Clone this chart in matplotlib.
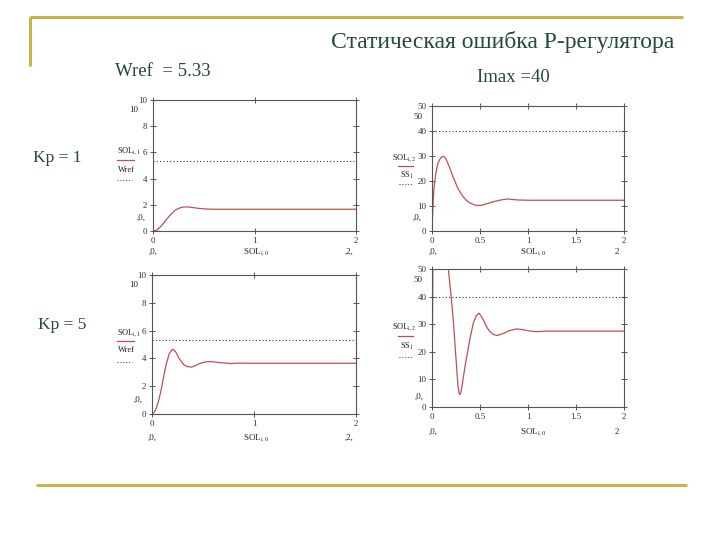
import numpy as np
import matplotlib.pyplot as plt
from matplotlib.lines import Line2D

plt.rcParams["font.family"] = ["Liberation Serif", "DejaVu Serif"]
plt.rcParams["mathtext.fontset"] = "stix"

# ---- data ----
# Kp = 1, speed SOL[i,1]
t_w1 = [0, 0.02, 0.04, 0.07, 0.1, 0.14, 0.18, 0.22, 0.26, 0.3, 0.34, 0.38,
        0.42, 0.46, 0.5, 0.55, 0.6, 0.8, 1.0, 1.5, 2.0]
w1 = [0, 0.02, 0.08, 0.3, 0.55, 0.95, 1.3, 1.6, 1.75, 1.83, 1.84, 1.8,
      1.76, 1.72, 1.69, 1.67, 1.66, 1.66, 1.66, 1.66, 1.66]
# Kp = 1, current SOL[i,2]
t_i1 = [0, 0.01, 0.02, 0.04, 0.06, 0.09, 0.115, 0.14, 0.18, 0.22, 0.27, 0.32,
        0.36, 0.4, 0.46, 0.52, 0.57, 0.62, 0.67, 0.73, 0.79, 0.84, 0.9, 1.0,
        1.5, 2.0]
i1 = [0, 10, 17, 23, 27, 29.3, 29.9, 29.2, 25.8, 21.6, 17, 13.9,
      12.2, 11.1, 10.2, 10.3, 10.9, 11.5, 12.0, 12.5, 12.8, 12.6, 12.4, 12.3,
      12.3, 12.3]
# Kp = 5, speed SOL[i,1]
t_w5 = [0, 0.02, 0.04, 0.07, 0.09, 0.12, 0.14, 0.17, 0.2, 0.23, 0.27, 0.31,
        0.35, 0.39, 0.43, 0.47, 0.52, 0.57, 0.62, 0.66, 0.72, 0.78, 0.86, 1.0,
        1.5, 2.0]
w5 = [0, 0.1, 0.38, 1.1, 1.75, 2.9, 3.6, 4.35, 4.66, 4.5, 3.95, 3.55,
      3.4, 3.38, 3.5, 3.64, 3.74, 3.77, 3.74, 3.7, 3.66, 3.63, 3.66, 3.65,
      3.65, 3.65]
# Kp = 5, current SOL[i,2]
t_i5 = [0, 0.005, 0.01, 0.03, 0.06, 0.1, 0.14, 0.17, 0.2, 0.225, 0.245, 0.26,
        0.27, 0.28, 0.29, 0.3, 0.31, 0.33, 0.35, 0.375, 0.4, 0.43, 0.46, 0.49,
        0.53, 0.57, 0.6, 0.64, 0.68, 0.74, 0.8, 0.88, 0.95, 1.02, 1.09, 1.19,
        1.5, 2.0]
i5 = [0, 30, 55, 75, 78, 72, 60, 50, 40, 30, 20, 12.5,
      8, 5.2, 4.5, 5.2, 7, 11.5, 16, 20.8, 25.5, 30.4, 33, 34,
      31.9, 29, 27.4, 26.3, 25.9, 26.6, 27.6, 28.3, 28, 27.5, 27.3, 27.5,
      27.5, 27.5]

wref = 5.33
imax = 40

RED = "#c0504d"
OLIVE = "#c9b34a"
GREEN = "#24483a"
AX = "#555555"

W, H = 720, 540
fig = plt.figure(figsize=(7.2, 5.4), dpi=100)


def px(x, y):
    return x / W, 1 - y / H


def ftext(x, y, s, size=6.5, ha="left", va="center", color="#222222"):
    fig.text(*px(x, y), s, fontsize=size, ha=ha, va=va, color=color)


def fline(x0, x1, y, **kw):
    a, b = px(x0, y)
    c, _ = px(x1, y)
    fig.add_artist(Line2D([a, c], [b, b], transform=fig.transFigure, **kw))


def make_axes(rect, t, y, ref, ylim, yticks, xticks, xlabels):
    x0, y0, x1, y1 = rect
    l, top = px(x0, y0)
    r, bot = px(x1, y1)
    ax = fig.add_axes([l, bot, r - l, top - bot])
    ax.plot(t, y, color=RED, lw=0.9)
    ax.axhline(ref, color="#333333", lw=0.8, ls=(0, (1, 2)))
    ax.set_xlim(0, 2)
    ax.set_ylim(*ylim)
    ax.set_yticks(yticks)
    ax.set_yticklabels([f"{v:g}" for v in yticks])
    ax.set_xticks(xticks)
    ax.set_xticklabels(xlabels)
    for s in ax.spines.values():
        s.set_color(AX)
        s.set_linewidth(0.8)
    ax.tick_params(axis="both", direction="inout", length=4, width=0.7,
                   color=AX, labelsize=6.5, labelcolor="#333333", pad=2,
                   top=True, right=True)
    return ax


make_axes((153, 100, 356, 231), t_w1, w1, wref, (0, 10),
          [0, 2, 4, 6, 8, 10], [0, 1, 2], ["0", "1", "2"])
make_axes((432, 106, 624, 231), t_i1, i1, imax, (0, 50),
          [0, 10, 20, 30, 40, 50], [0, 0.5, 1, 1.5, 2],
          ["0", "0.5", "1", "1.5", "2"])
make_axes((152, 275, 356, 414), t_w5, w5, wref, (0, 10),
          [0, 2, 4, 6, 8, 10], [0, 1, 2], ["0", "1", "2"])
make_axes((432, 269, 624, 407), t_i5, i5, imax, (0, 50),
          [0, 10, 20, 30, 40, 50], [0, 0.5, 1, 1.5, 2],
          ["0", "0.5", "1", "1.5", "2"])

LS = 6  # size of the Mathcad side labels

# plot 1 labels
ftext(129, 110, "10")
ftext(117, 151, "SOL$_{\\mathrm{i,1}}$", size=LS)
fline(117, 134, 160, color=RED, lw=0.9)
ftext(118, 170, "Wref", size=LS)
fline(117, 132, 180, color="#333333", lw=0.7, ls=(0, (1, 2)))
ftext(137, 218, ",0,")
ftext(153, 252, ",0,", ha="center")
ftext(256, 252, "SOL$_{\\mathrm{i,0}}$", ha="center")
ftext(349, 252, ",2,", ha="center")

# plot 2 labels
ftext(413, 117, "50")
ftext(417, 158, "SOL$_{\\mathrm{i,2}}$", size=LS, ha="right")
fline(398, 413, 166, color=RED, lw=0.9)
ftext(400, 175, "SS$_{\\mathrm{1}}$", size=LS)
fline(399, 412, 184, color="#333333", lw=0.7, ls=(0, (1, 2)))
ftext(413, 218, ",0,")
ftext(433, 252, ",0,", ha="center")
ftext(533, 252, "SOL$_{\\mathrm{i,0}}$", ha="center")
ftext(617, 252, "2", ha="center")

# plot 3 labels
ftext(129, 285, "10")
ftext(117, 333, "SOL$_{\\mathrm{i,1}}$", size=LS)
fline(117, 134, 341, color=RED, lw=0.9)
ftext(118, 350, "Wref", size=LS)
fline(117, 132, 362, color="#333333", lw=0.7, ls=(0, (1, 2)))
ftext(134, 400, ",0,")
ftext(152, 438, ",0,", ha="center")
ftext(256, 438, "SOL$_{\\mathrm{i,0}}$", ha="center")
ftext(349, 438, ",2,", ha="center")

# plot 4 labels
ftext(413, 280, "50")
ftext(417, 327, "SOL$_{\\mathrm{i,2}}$", size=LS, ha="right")
fline(398, 413, 336, color=RED, lw=0.9)
ftext(400, 346, "SS$_{\\mathrm{1}}$", size=LS)
fline(399, 412, 357, color="#333333", lw=0.7, ls=(0, (1, 2)))
ftext(415, 397, ",0,")
ftext(433, 432, ",0,", ha="center")
ftext(533, 432, "SOL$_{\\mathrm{i,0}}$", ha="center")
ftext(617, 432, "2", ha="center")

# slide decorations
fline(30, 683, 17, color=OLIVE, lw=2.2, solid_capstyle="butt")
a, b = px(30, 17)
_, d = px(30, 66)
fig.add_artist(Line2D([a, a], [b, d], transform=fig.transFigure,
                      color=OLIVE, lw=2.2, solid_capstyle="butt"))
fline(36, 687, 485, color=OLIVE, lw=2.2, solid_capstyle="butt")

ftext(674, 42, "Статическая ошибка Р-регулятора", size=17, ha="right",
      color=GREEN)
ftext(115, 72, "Wref  = 5.33", size=13.5, color=GREEN)
ftext(477, 77, "Imax =40", size=13.5, color=GREEN)
ftext(33, 158, "Kp = 1", size=12.5, color=GREEN)
ftext(38, 325, "Kp = 5", size=12.5, color=GREEN)

fig.savefig("out.png", dpi=100)
